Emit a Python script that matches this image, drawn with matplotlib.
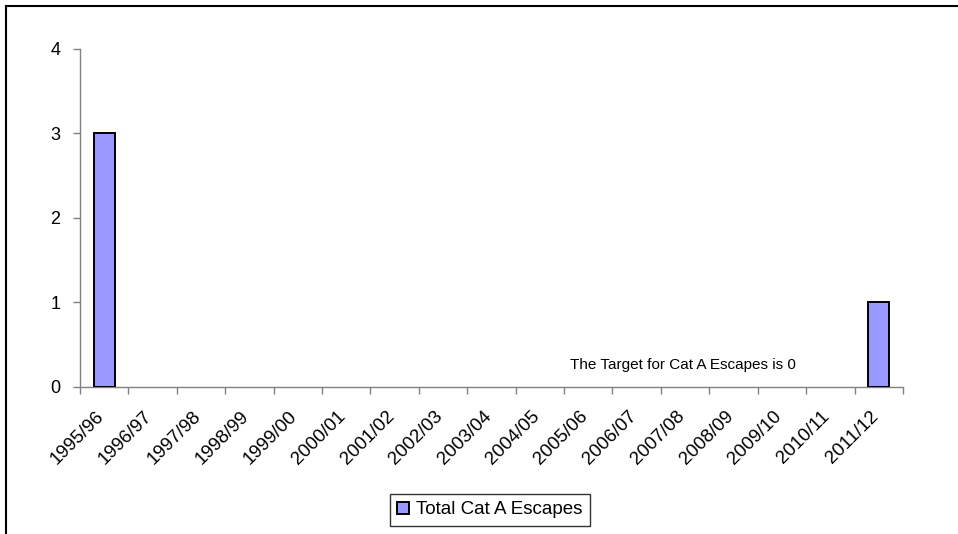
import numpy as np
import matplotlib.pyplot as plt
from matplotlib.lines import Line2D
from matplotlib.transforms import ScaledTranslation

plt.rcParams['font.family'] = ['Liberation Sans', 'DejaVu Sans']

# Data
years = ['1995/96', '1996/97', '1997/98', '1998/99', '1999/00', '2000/01',
         '2001/02', '2002/03', '2003/04', '2004/05', '2005/06', '2006/07',
         '2007/08', '2008/09', '2009/10', '2010/11', '2011/12']
escapes = [3, 0, 0, 0, 0, 0, 0, 0, 0, 0, 0, 0, 0, 0, 0, 0, 1]
y_ticks = [0, 1, 2, 3, 4]

fig = plt.figure(figsize=(9.58, 5.34), dpi=100)
ax = fig.add_axes([0.0835, 0.2753, 0.859, 0.633])

x = np.arange(len(years))
vals = np.array(escapes)
nz = vals > 0  # Excel does not draw zero-height bars
ax.bar(x[nz], vals[nz], width=0.44, color='#9999FF', edgecolor='black',
       linewidth=1.4, label='Total Cat A Escapes', zorder=3)

ax.set_xlim(-0.5, len(years) - 0.5)
ax.set_ylim(0, 4)
ax.set_yticks(y_ticks)
ax.set_yticklabels([str(v) for v in y_ticks], fontsize=13)

# labels at category centres, tick marks at category boundaries
ax.set_xticks(x)
ax.set_xticklabels(years, rotation=45, ha='right', rotation_mode='anchor', fontsize=13.5)
ax.tick_params(axis='x', which='major', length=0, pad=15)
ax.set_xticks(np.arange(len(years) + 1) - 0.5, minor=True)
ax.tick_params(axis='x', which='minor', length=5, width=1, color='#808080')
ax.tick_params(axis='y', length=5, width=1, color='#808080', pad=9)
shift = ScaledTranslation(-9 / 100, 0, fig.dpi_scale_trans)
for lab in ax.get_xticklabels():
    lab.set_transform(lab.get_transform() + shift)

for side in ['top', 'right']:
    ax.spines[side].set_visible(False)
for side in ['left', 'bottom']:
    ax.spines[side].set_color('#808080')
    ax.spines[side].set_linewidth(1)

ax.text(11.95, 0.26, 'The Target for Cat A Escapes is 0', ha='center',
        va='center', fontsize=11)

leg = ax.legend(loc='center', bbox_to_anchor=(490 / 958, 1 - 510 / 534),
                bbox_transform=fig.transFigure, fontsize=13.5, frameon=True,
                fancybox=False, handlelength=0.6, handleheight=0.6,
                handletextpad=0.4, borderpad=0.4, borderaxespad=0)
leg.get_frame().set_edgecolor('black')
leg.get_frame().set_linewidth(1)

# chart-area border (top and left edges are visible in the reference)
fig.add_artist(Line2D([5.5 / 958, 1.0], [1 - 6 / 534, 1 - 6 / 534],
                      transform=fig.transFigure, color='black', linewidth=1.5))
fig.add_artist(Line2D([5.5 / 958, 5.5 / 958], [0, 1 - 6 / 534],
                      transform=fig.transFigure, color='black', linewidth=1.5))

fig.savefig('out.png', dpi=100)
